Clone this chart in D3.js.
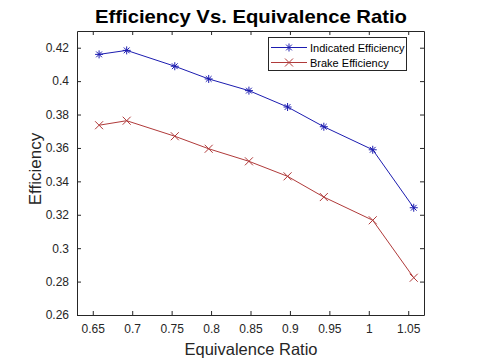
<!DOCTYPE html>
<html><head><meta charset="utf-8">
<script src="https://cdn.jsdelivr.net/npm/d3@7"></script>
<style>body{margin:0;background:#fff}svg{display:block}</style>
</head><body>
<script>
const ratio = [0.658, 0.693, 0.754, 0.797, 0.848, 0.897, 0.943, 1.005, 1.057];
const indicated = [0.4160, 0.4184, 0.4089, 0.4013, 0.3943, 0.3845, 0.3727, 0.3589, 0.3242];
const brake = [0.3736, 0.3763, 0.3670, 0.3595, 0.3520, 0.3430, 0.3306, 0.3167, 0.2823];
const xTicks = [0.65, 0.7, 0.75, 0.8, 0.85, 0.9, 0.95, 1, 1.05];
const yTicks = [0.26, 0.28, 0.3, 0.32, 0.34, 0.36, 0.38, 0.4, 0.42];
const seriesNames = ["Indicated Efficiency", "Brake Efficiency"];

const W = 485, H = 360;
const m = {l: 77, r: 61, t: 31, b: 45};
const svg = d3.select("body").append("svg").attr("width", W).attr("height", H)
  .style("font-family", "Arial, 'Liberation Sans', sans-serif");
const x = d3.scaleLinear().domain([0.63, 1.07]).range([m.l, W - m.r]);
const y = d3.scaleLinear().domain([0.26, 0.43]).range([H - m.b, m.t]);
const axisCol = "#262626";
const fmt = d => String(+d.toFixed(2));

function styleAxis(g) {
  g.selectAll("path").attr("stroke", axisCol).attr("stroke-width", 1);
  g.selectAll("line").attr("stroke", axisCol);
  g.selectAll("text").attr("fill", axisCol).style("font-size", "12px").style("font-family", "Arial, 'Liberation Sans', sans-serif");
}
svg.append("g").attr("transform", `translate(0,${H - m.b})`)
  .call(d3.axisBottom(x).tickValues(xTicks).tickFormat(fmt).tickSizeInner(-4).tickSizeOuter(0).tickPadding(9))
  .call(styleAxis);
svg.append("g").attr("transform", `translate(0,${m.t})`)
  .call(d3.axisTop(x).tickValues(xTicks).tickFormat("").tickSizeInner(-4).tickSizeOuter(0))
  .call(styleAxis);
svg.append("g").attr("transform", `translate(${m.l},0)`)
  .call(d3.axisLeft(y).tickValues(yTicks).tickFormat(fmt).tickSizeInner(-4).tickSizeOuter(0).tickPadding(8))
  .call(styleAxis);
svg.append("g").attr("transform", `translate(${W - m.r},0)`)
  .call(d3.axisRight(y).tickValues(yTicks).tickFormat("").tickSizeInner(-4).tickSizeOuter(0))
  .call(styleAxis);

const colors = ["#1c1cb0", "#b03a3a"];
const line = d3.line().x((d, i) => x(ratio[i])).y(d => y(d));
const star = (g, cx, cy, c) => {
  const s = 4;
  [[-s,0,s,0],[0,-s,0,s],[-s*0.72,-s*0.72,s*0.72,s*0.72],[-s*0.72,s*0.72,s*0.72,-s*0.72]].forEach(a =>
    g.append("line").attr("x1", cx+a[0]).attr("y1", cy+a[1]).attr("x2", cx+a[2]).attr("y2", cy+a[3]).attr("stroke", c).attr("stroke-width", 1));
};
const cross = (g, cx, cy, c) => {
  const s = 4;
  [[-s,-s,s,s],[-s,s,s,-s]].forEach(a =>
    g.append("line").attr("x1", cx+a[0]).attr("y1", cy+a[1]).attr("x2", cx+a[2]).attr("y2", cy+a[3]).attr("stroke", c).attr("stroke-width", 1));
};
[[indicated, star], [brake, cross]].forEach(([data, mk], k) => {
  svg.append("path").datum(data).attr("d", line).attr("fill", "none").attr("stroke", colors[k]).attr("stroke-width", 1);
  const g = svg.append("g");
  data.forEach((d, i) => mk(g, x(ratio[i]), y(d), colors[k]));
});

// legend
const lg = svg.append("g");
lg.append("rect").attr("x", 268.5).attr("y", 37.5).attr("width", 138).attr("height", 33)
  .attr("fill", "#fff").attr("stroke", axisCol).attr("stroke-width", 1);
seriesNames.forEach((n, k) => {
  const yy = 47.5 + k * 15;
  lg.append("line").attr("x1", 271).attr("x2", 307).attr("y1", yy).attr("y2", yy).attr("stroke", colors[k]);
  (k === 0 ? star : cross)(lg, 289, yy, colors[k]);
  lg.append("text").attr("x", 310).attr("y", yy + 4).text(n).style("font-size", "11px").attr("fill", "#000");
});

svg.append("text").attr("x", 251).attr("y", 23).attr("text-anchor", "middle")
  .attr("textLength", 312).attr("lengthAdjust", "spacingAndGlyphs")
  .style("font-size", "19px").style("font-weight", "bold").attr("fill", "#000").text("Efficiency Vs. Equivalence Ratio");
svg.append("text").attr("x", 251).attr("y", 355).attr("text-anchor", "middle")
  .style("font-size", "16.5px").attr("fill", axisCol).text("Equivalence Ratio");
svg.append("text").attr("transform", `translate(41,169) rotate(-90)`).attr("text-anchor", "middle")
  .style("font-size", "17px").attr("fill", axisCol).text("Efficiency");
</script>
</body></html>
